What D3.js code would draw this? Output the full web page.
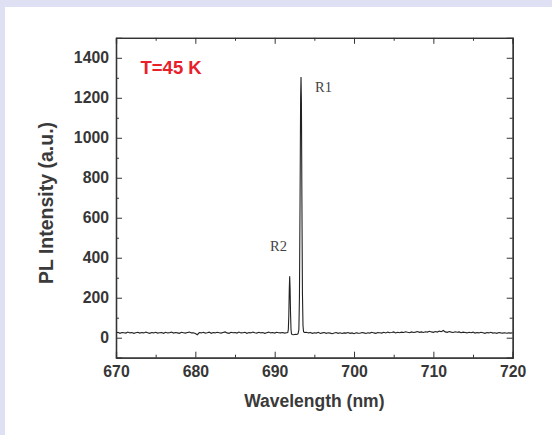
<!DOCTYPE html>
<html>
<head>
	<title>PL spectrum</title>
	<style>
	body{
		margin: 0;
		background: #fff;
	}
	svg{
		display: block;
	}
	.axis path, .axis line{
		stroke: #333;
	}
	.axis path{
		stroke-width: 1.3px;
	}
	.axis text{
		font-family: "Liberation Sans", Arial, sans-serif;
		font-weight: bold;
		font-size: 15.8px;
		fill: #363636;
	}
	.title{
		font-family: "Liberation Sans", Arial, sans-serif;
		font-weight: bold;
		font-size: 17.5px;
		fill: #3a3a3a;
	}
	.peakLabel{
		font-family: "Liberation Serif", "Times New Roman", serif;
		font-size: 14.5px;
		fill: #444;
	}
	</style>
</head>
<body>
	<svg width="552" height="435"></svg>
	<script src="https://d3js.org/d3.v7.min.js"></script>
	<script type="text/javascript">

		// baseline samples, 670 -> 691.5 nm, every 0.25 nm
		var leftStart = 670, step = 0.25;
		var leftBaseline = [24,27,22,26,25,23,28,24,26,22,25,27,23,26,24,28,25,22,26,24,
			27,23,25,26,22,27,24,25,28,23,26,24,22,27,25,23,26,28,24,25,
			21,15,26,24,27,23,25,28,22,26,24,27,25,23,26,29,24,22,27,25,
			26,23,28,24,25,27,22,26,24,28,25,23,27,24,26,22,25,28,24,26,
			23,27,25,24,26,23,25];

		// the two ruby lines (R2, R1)
		var peakWavelength = [691.65,691.72,691.78,691.84,691.89,691.94,692.0,692.06,692.12,692.2,692.4,692.6,692.8,692.95,
			693.05,693.12,693.2,693.27,693.32,693.37,693.43,693.5,693.57,693.64,693.75];
		var peakIntensity = [26,40,110,240,307,250,120,40,20,16,15,17,16,20,
			40,200,700,1200,1304,1180,700,220,60,30,26];

		// baseline samples, 694 -> 720 nm, every 0.25 nm
		var rightStart = 694;
		var rightBaseline = [27,24,26,22,25,23,27,21,24,26,
			22,25,23,20,24,26,22,25,21,24,
			23,26,22,24,20,25,23,22,26,24,
			21,25,23,27,24,22,26,25,23,27,
			24,28,25,26,29,24,27,25,28,26,
			30,27,25,29,26,28,31,27,29,26,
			30,28,32,29,27,31,28,33,30,36,
			29,27,31,28,26,30,27,29,25,28,
			26,24,27,25,28,23,26,24,27,25,
			22,26,24,27,23,25,22,26,24,23,
			25,22,24,23,25];

		var xMajor = [670,680,690,700,710,720];
		var xMinor = [675,685,695,705,715];
		var yMajor = [0,200,400,600,800,1000,1200,1400];
		var yMinor = [100,300,500,700,900,1100,1300];

		(function(){
			var svg = d3.select("svg");
			var width = +svg.attr("width");
			var height = +svg.attr("height");

			// lavender frame on top and left
			svg.append("rect").attr("x",0).attr("y",0).attr("width",width).attr("height",7).attr("fill","#e0e0f5");
			svg.append("rect").attr("x",0).attr("y",0).attr("width",5).attr("height",height).attr("fill","#e0e0f5");

			var plotLeft = 116, plotRight = 512.7, plotTop = 37.8, plotBottom = 357.7;
			var x = d3.scaleLinear().domain([670,720]).range([plotLeft,plotRight]);
			var y = d3.scaleLinear().domain([-100,1500]).range([plotBottom,plotTop]);

			var data = [];
			leftBaseline.forEach(function(v,i){ data.push({w: leftStart + i*step, v: v}); });
			peakWavelength.forEach(function(w,i){ data.push({w: w, v: peakIntensity[i]}); });
			rightBaseline.forEach(function(v,i){ data.push({w: rightStart + i*step, v: v}); });
			data.sort(function(a,b){ return a.w - b.w; });

			var line = d3.line()
				.x(function(d){ return x(d.w); })
				.y(function(d){ return y(d.v); });

			svg.append("path")
				.datum(data)
				.attr("fill","none")
				.attr("stroke","#222")
				.attr("stroke-width",1.1)
				.attr("d",line);

			// axes, ticks pointing inward
			function addAxis(axis, tx, ty){
				return svg.append("g").attr("class","axis").attr("transform","translate("+tx+","+ty+")").call(axis);
			}
			addAxis(d3.axisBottom(x).tickValues(xMajor).tickFormat(d3.format("d")).tickSize(-6).tickPadding(8), 0, plotBottom);
			addAxis(d3.axisBottom(x).tickValues(xMinor).tickFormat("").tickSize(-3).tickSizeOuter(0), 0, plotBottom);
			addAxis(d3.axisTop(x).tickValues(xMajor).tickFormat("").tickSize(-6), 0, plotTop);
			addAxis(d3.axisTop(x).tickValues(xMinor).tickFormat("").tickSize(-3).tickSizeOuter(0), 0, plotTop);
			addAxis(d3.axisLeft(y).tickValues(yMajor).tickFormat(d3.format("d")).tickSize(-6).tickPadding(7), plotLeft, 0);
			addAxis(d3.axisLeft(y).tickValues(yMinor).tickFormat("").tickSize(-3).tickSizeOuter(0), plotLeft, 0);
			addAxis(d3.axisRight(y).tickValues(yMajor).tickFormat("").tickSize(-6), plotRight, 0);
			addAxis(d3.axisRight(y).tickValues(yMinor).tickFormat("").tickSize(-3).tickSizeOuter(0), plotRight, 0);

			svg.append("text")
				.attr("class","title")
				.attr("x",(plotLeft+plotRight)/2)
				.attr("y",407)
				.attr("text-anchor","middle")
				.text("Wavelength (nm)");

			svg.append("text")
				.attr("class","title")
				.attr("transform","translate(53,203) rotate(-90)")
				.attr("text-anchor","middle")
				.style("font-size","19.5px")
				.text("PL Intensity (a.u.)");

			svg.append("text")
				.attr("x",140.5)
				.attr("y",74)
				.attr("fill","#e8202a")
				.style("font-family","'Liberation Sans', Arial, sans-serif")
				.style("font-weight","bold")
				.style("font-size","18.5px")
				.text("T=45 K");

			svg.append("text").attr("class","peakLabel").attr("x",315).attr("y",92.3).text("R1");
			svg.append("text").attr("class","peakLabel").attr("x",270).attr("y",251).text("R2");
		})();

	</script>
</body>
</html>
